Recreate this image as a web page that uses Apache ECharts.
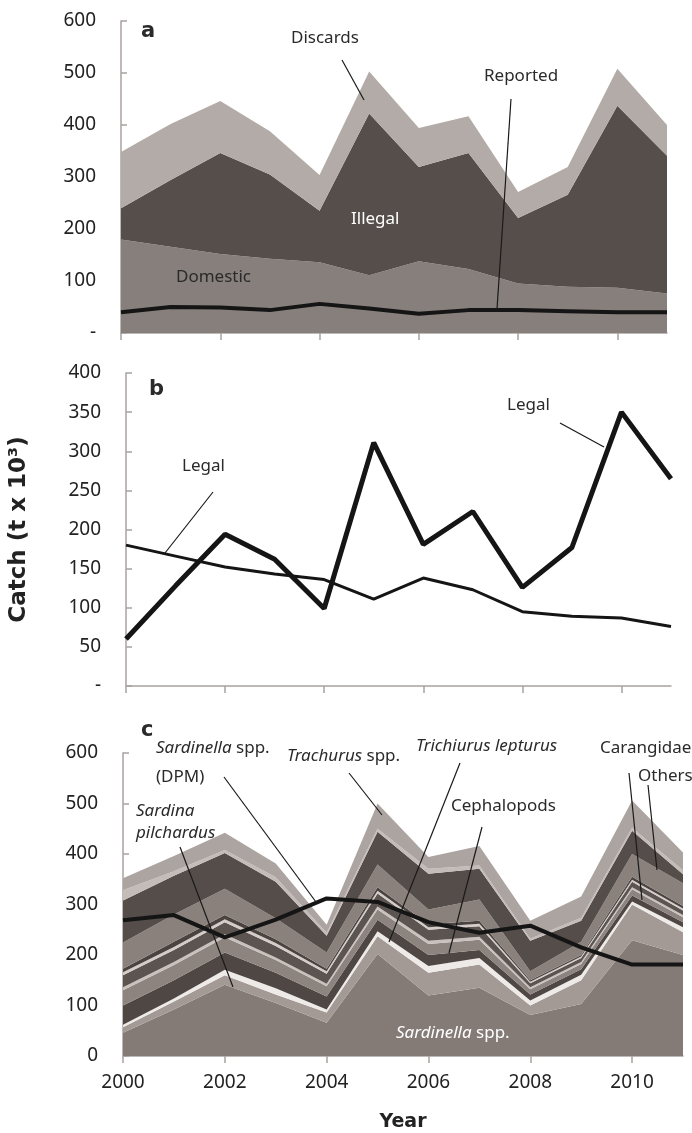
<!DOCTYPE html>
<html>
<head>
<meta charset="UTF-8">
<title>Catch</title>
<script src="https://cdn.jsdelivr.net/npm/echarts@6/dist/echarts.min.js"></script>
<style>
    html, body { margin: 0; padding: 0; background: #fff; }
    #main { width: 692px; height: 1133px; }
</style>
</head>
<body>
<div id="main"></div>
<script>
// years on the x axis
var years = ['2000','2001','2002','2003','2004','2005','2006','2007','2008','2009','2010','2011'];

// panel a / b (t x 10^3)
var domestic = [180, 166, 152, 143, 136, 111, 138, 123, 95, 89, 87, 76];
var illegal  = [60, 128, 194, 162, 99, 311, 181, 223, 126, 177, 350, 265];
var discards = [108, 108, 100, 83, 69, 81, 75, 71, 50, 53, 71, 59];
var reported = [40, 50, 49, 44, 56, 47, 37, 44, 44, 42, 40, 40];

// panel c, stacked layers bottom -> top
var c01 = [46, 92, 141, 105, 66, 202, 120, 135, 81, 103, 229, 200];   // Sardinella spp.
var c02 = [11, 16, 19, 17, 20, 35, 45, 46, 19, 47, 71, 45];
var c03 = [5, 6, 11, 12, 6, 10, 13, 13, 10, 11, 6, 10];
var c04 = [38, 36, 34, 31, 26, 23, 22, 16, 12, 11, 12, 10];
var c05 = [30, 30, 30, 25, 20, 20, 22, 20, 10, 10, 12, 10];
var c06 = [6, 6, 6, 5, 5, 6, 6, 6, 4, 4, 4, 4];
var c07 = [24, 24, 24, 23, 20, 26, 22, 21, 8, 8, 11, 9];
var c08 = [6, 6, 6, 6, 5, 5, 5, 5, 3, 3, 4, 4];
var c09 = [7, 10, 8, 7, 5, 7, 6, 6, 3, 3, 6, 5];
var c10 = [52, 54, 52, 42, 32, 45, 29, 42, 18, 26, 45, 45];
var c11 = [83, 77, 71, 72, 33, 65, 71, 61, 60, 42, 46, 18];
var c12 = [20, 9, 6, 9, 6, 6, 10, 6, 4, 6, 6, 8];
var c13 = [24, 30, 34, 27, 16, 50, 23, 39, 36, 42, 54, 35];
var cLine = [269, 279, 235, 270, 312, 305, 265, 244, 258, 215, 181, 181];

var cLayers = [c01, c02, c03, c04, c05, c06, c07, c08, c09, c10, c11, c12, c13];
var cColors = ['#847b77','#a39a96','#eeeae7','#4f4744','#8d8480','#c9c1bd','#5c5450',
               '#d4ccc8','#4a4340','#8a817d','#554d4a','#c4bcb8','#aca4a0'];

var axisCol = '#a8a2a0';
var font = '"Noto Sans", sans-serif';

function xAx(idx, showLabel) {
    return {
        type: 'category', gridIndex: idx, data: years, boundaryGap: false,
        axisLine: {lineStyle: {color: axisCol, width: 1.5}},
        axisTick: {show: true, interval: 1, length: 7, lineStyle: {color: axisCol, width: 1.5}},
        axisLabel: {show: showLabel, interval: 1, margin: 17, color: '#222', fontSize: 19, fontFamily: font},
        splitLine: {show: false}
    };
}
function yAx(idx, max, step, dash) {
    return {
        type: 'value', gridIndex: idx, min: 0, max: max, interval: step,
        axisLine: {show: true, lineStyle: {color: axisCol, width: 1.5}},
        axisTick: {show: true, inside: true, length: 6, lineStyle: {color: axisCol, width: 1.5}},
        axisLabel: {margin: 25, color: '#222', fontSize: 19, fontFamily: font,
            formatter: function (v) { return (v === 0 && dash) ? '-' : v; }},
        splitLine: {show: false}
    };
}

var series = [
    {name: 'Domestic', type: 'line', xAxisIndex: 0, yAxisIndex: 0, stack: 'a', data: domestic,
        symbol: 'none', lineStyle: {width: 0}, areaStyle: {color: '#877f7b', opacity: 1}},
    {name: 'Illegal', type: 'line', xAxisIndex: 0, yAxisIndex: 0, stack: 'a', data: illegal,
        symbol: 'none', lineStyle: {width: 0}, areaStyle: {color: '#564e4b', opacity: 1}},
    {name: 'Discards', type: 'line', xAxisIndex: 0, yAxisIndex: 0, stack: 'a', data: discards,
        symbol: 'none', lineStyle: {width: 0}, areaStyle: {color: '#b3aba7', opacity: 1}},
    {name: 'Reported', type: 'line', xAxisIndex: 0, yAxisIndex: 0, data: reported,
        symbol: 'none', lineStyle: {width: 4, color: '#151515'}, z: 5},
    {name: 'Legal', type: 'line', xAxisIndex: 1, yAxisIndex: 1, data: domestic,
        symbol: 'none', lineStyle: {width: 3, color: '#151515'}},
    {name: 'Legal2', type: 'line', xAxisIndex: 1, yAxisIndex: 1, data: illegal,
        symbol: 'none', lineStyle: {width: 5, color: '#151515'}}
];
cLayers.forEach(function (d, i) {
    series.push({type: 'line', xAxisIndex: 2, yAxisIndex: 2, stack: 'c', data: d,
        symbol: 'none', lineStyle: {width: 0}, areaStyle: {color: cColors[i], opacity: 1}});
});
series.push({type: 'line', xAxisIndex: 2, yAxisIndex: 2, data: cLine,
    symbol: 'none', lineStyle: {width: 4, color: '#151515'}, z: 5});

// annotation helpers
function txt(s, x, y, opt) {
    opt = opt || {};
    var size = opt.size || 17;
    return {type: 'text', left: x, top: y - size * 0.7, z: 100,
        style: {text: s, fill: opt.fill || '#2a2a2a', font: (opt.weight || 'normal') + ' ' + size + 'px ' + (opt.family || font),
            rich: {i: {fontStyle: 'italic', fontSize: size, fontFamily: opt.family || font, fill: opt.fill || '#2a2a2a'}}}};
}
function lead(x1, y1, x2, y2) {
    return {type: 'line', z: 100, shape: {x1: x1, y1: y1, x2: x2, y2: y2},
        style: {stroke: '#1a1a1a', lineWidth: 1.2}};
}
var bold = {weight: 'bold', size: 21, family: '"DejaVu Sans", sans-serif'};

var graphics = [
    txt('a', 141, 36, bold),
    txt('Discards', 291, 42), lead(342, 60, 364, 100),
    txt('Reported', 484, 80), lead(511, 99, 497, 309),
    txt('Illegal', 351, 223, {fill: '#ffffff'}),
    txt('Domestic', 176, 281),
    txt('b', 149, 394, bold),
    txt('Legal', 182, 470), lead(213, 492, 165, 553),
    txt('Legal', 507, 409), lead(560, 423, 604, 447),
    txt('c', 141, 735, bold),
    txt('{i|Sardinella} spp.', 156, 752), txt('(DPM)', 156, 781), lead(224, 777, 316, 902),
    txt('{i|Trachurus} spp.', 287, 760), lead(349, 773, 382, 815),
    txt('{i|Trichiurus lepturus}', 416, 750), lead(460, 763, 389, 942),
    txt('Cephalopods', 451, 810), lead(482, 827, 449, 953),
    txt('Carangidae', 600, 752), lead(629, 773, 642, 900),
    txt('Others', 638, 780), lead(648, 785, 657, 870),
    txt('{i|Sardina}', 136, 815), txt('{i|pilchardus}', 136, 837), lead(180, 847, 233, 987),
    txt('{i|Sardinella} spp.', 396, 1037, {fill: '#ffffff'})
];

var chart = echarts.init(document.getElementById('main'));
var xc = xAx(2, true);
xc.name = 'Year'; xc.nameLocation = 'middle'; xc.nameGap = 57;
xc.nameTextStyle = {fontWeight: 'bold', fontSize: 19, color: '#222', fontFamily: '"DejaVu Sans", sans-serif'};
var yb = yAx(1, 400, 50, true);
yb.name = 'Catch (t x 10³)'; yb.nameLocation = 'middle'; yb.nameGap = 95;
yb.nameTextStyle = {fontWeight: 'bold', fontSize: 23, color: '#222', fontFamily: '"DejaVu Sans", sans-serif'};

chart.setOption({
    animation: false,
    backgroundColor: '#ffffff',
    grid: [
        {left: 121, right: 25, top: 21, height: 312},
        {left: 121, right: 21, top: 373, height: 313},
        {left: 123, right: 9, top: 753, height: 312}
    ],
    xAxis: [xAx(0, false), xAx(1, false), xc],
    yAxis: [yAx(0, 600, 100, true), yb, yAx(2, 600, 100, false)],
    series: series,
    graphic: graphics
});
</script>
</body>
</html>
